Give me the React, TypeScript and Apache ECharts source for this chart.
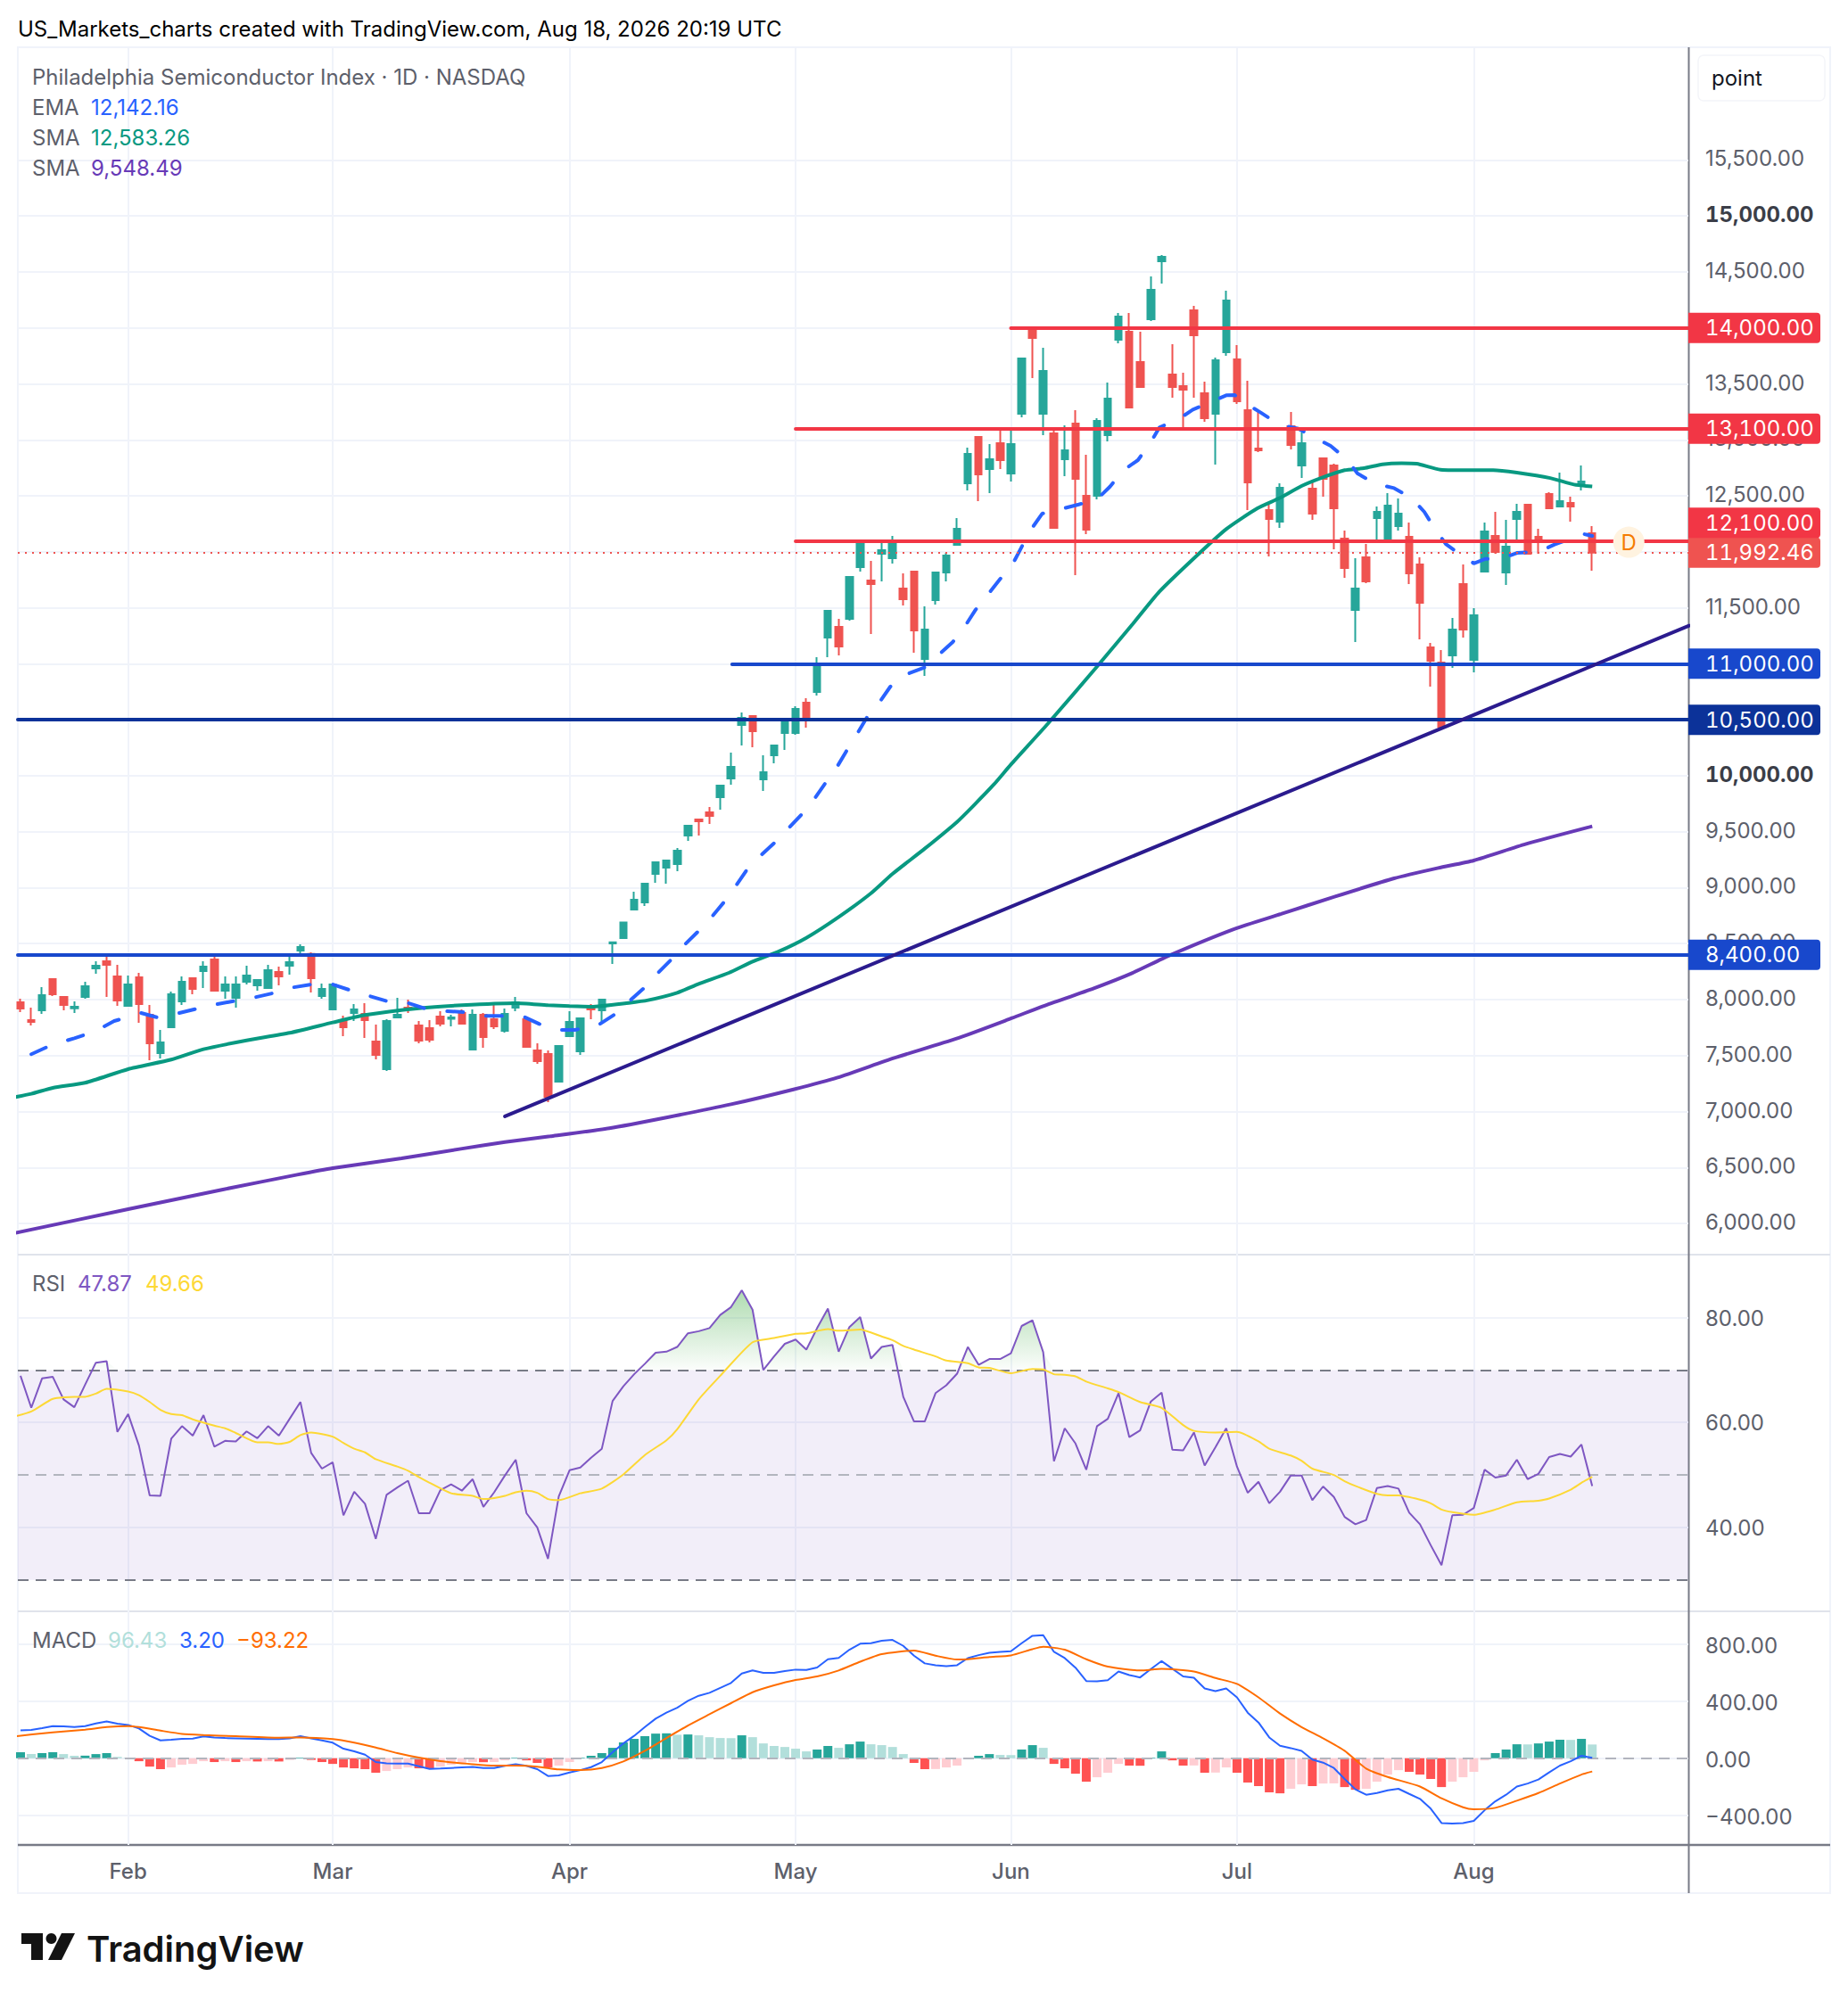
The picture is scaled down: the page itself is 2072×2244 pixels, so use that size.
import React, { useEffect, useRef } from "react";
import * as echarts from "echarts";

const FONT = "Inter";

const opens = [7976,7817,7905,8183,8024,7923,8024,8279,8343,8207,7945,8199,7865,7522,7753,7984,8191,8255,8359,8080,8016,8160,8128,8104,8247,8303,8438,8409,8032,7913,7809,7881,7873,7626,7379,7841,7929,7769,7745,7849,7828,7881,7554,7865,7825,7721,7929,7825,7546,7514,7267,7674,7538,7929,7905,8502,8550,8804,8868,9123,9179,9211,9466,9609,9673,9808,9975,10453,10533,9967,10182,10381,10381,10652,10748,11234,11329,11401,11863,11744,11982,11943,11672,11823,11043,11568,11815,12062,12612,13026,12739,12970,12699,13233,13974,13233,13058,12827,13145,12500,12500,13042,13894,13966,13695,14077,14595,13583,13480,14157,13416,13233,13783,13719,13265,12922,12373,12269,13121,12771,12564,12835,12771,12118,11481,11951,12301,12118,12229,12134,11887,11146,11011,11075,11712,11035,11823,12142,11815,12293,12421,12134,12516,12405,12436,12612,12166];
const closes = [7921,7801,8040,8048,7952,7937,8120,8303,8311,7992,8136,7960,7610,7618,8048,8160,8096,8295,8080,8136,8136,8215,8175,8263,8207,8335,8470,8191,8096,8136,7753,7913,7817,7506,7809,7865,7913,7634,7642,7785,7841,7785,7865,7666,7761,7873,7976,7578,7451,7132,7586,7801,7833,7913,8000,8512,8690,8892,9035,9227,9242,9330,9553,9593,9641,9912,10079,10517,10397,10031,10270,10501,10597,10525,10979,11473,11154,11775,12078,11712,12014,12070,11576,11297,11305,11815,11966,12206,12875,12691,12827,12819,12962,13727,13910,13615,12213,12906,12652,12198,13169,13368,14101,13289,13472,14340,14635,13472,13448,13934,13193,13711,14245,13345,12620,12906,12293,12572,12954,12970,12341,12652,12389,11855,11672,11736,12357,12413,12341,11807,11544,11027,10437,11306,11306,11433,12182,11998,12046,12357,11982,12118,12389,12452,12405,12628,11992.46];
const lows = [7889,7769,7873,8032,7905,7881,8008,8231,8024,7945,7945,7793,7459,7475,7753,7952,8048,8104,8080,8008,7929,8136,8080,8104,8128,8223,8414,8064,8008,7913,7674,7809,7658,7467,7363,7833,7881,7610,7618,7761,7761,7785,7546,7570,7737,7706,7897,7578,7427,7084,7267,7674,7506,7825,7793,8319,8542,8797,8836,9043,9035,9147,9418,9466,9569,9697,9919,10270,10254,9864,10111,10230,10366,10429,10716,11059,11074,11385,11823,11266,11736,11895,11520,11098,10891,11528,11736,12062,12548,12452,12524,12739,12628,13201,13552,13042,12213,12675,11791,12158,12468,12986,13862,13289,13472,14061,14396,13376,13106,13376,13161,12779,13751,13321,12373,12890,11959,12213,12914,12660,12285,12492,12022,11767,11194,11720,12086,12086,12190,11712,11218,10796,10429,10963,11234,10923,11823,11982,11704,12078,11982,11982,12389,12397,12269,12548,11831];
const highs = [8008,7929,8112,8191,8032,7984,8160,8343,8391,8311,8215,8239,7952,7729,8072,8207,8199,8343,8398,8207,8207,8303,8183,8311,8295,8391,8494,8422,8144,8144,7857,7960,7968,7777,7825,8016,8000,7809,7817,7897,7865,7913,7913,7881,7960,7921,8024,7833,7610,7546,7594,7897,7841,7960,8008,8520,8698,8964,9043,9230,9250,9354,9556,9612,9720,9915,10206,10565,10536,10182,10273,10517,10620,10692,11059,11476,11401,11775,12110,11919,12102,12142,11807,11830,11513,11815,11990,12301,12930,13034,12962,13114,13090,13735,13990,13822,13106,13129,13265,12867,13193,13512,14133,14133,13966,14460,14651,13854,13599,14197,13520,13735,14332,13846,13528,13249,12421,12612,13249,13066,12644,12843,12787,12190,11943,12070,12405,12524,12476,12261,11951,11186,11122,11409,11887,11497,12261,12357,12285,12429,12429,12205,12532,12707,12492,12771,12229];

const emaX = [1,2.8,5,6.9,8.7,10.2,11.2,12.7,14.5,16.2,18.3,20,21.8,23.4,25.3,27,29,30.5,32.3,34,35.8,37.5,39.5,41.2,43,44.7,46.7,48.2,50,51.5,53.6,55.1,56.5,57.8,59.1,60.4,61.6,62.9,64.2,65.3,66.4,67.4,68.7,70,71.3,72.5,73.7,74.7,75.8,76.7,77.7,78.6,79.8,80.8,82.2,84,85.3,86.6,87.8,88.7,89.9,91,92.2,93,93.9,94.9,96.7,98.3,100,101.2,102.4,103.8,104.9,105.8,107.5,108.9,110.5,112,112.8,113.8,115.2,116.9,118.7,120.2,121.7,123.2,124.2,125.9,127.6,129.2,130.4,131.4,132.4,133.9,135,136.1,137.5,139,141.1,142.5,144.3,145,146];
const emaY = [7512,7591,7655,7716,7809,7849,7881,7841,7875,7915,7960,7990,8021,8056,8109,8136,8136,8088,8035,7987,7976,7923,7897,7889,7854,7854,7849,7782,7729,7729,7769,7862,7981,8093,8228,8353,8481,8605,8738,8865,9009,9150,9282,9397,9527,9649,9787,9925,10071,10217,10371,10517,10658,10796,10902,10968,11080,11194,11345,11480,11624,11757,11897,12044,12203,12341,12383,12423,12468,12582,12726,12819,12965,13111,13180,13270,13335,13398,13400,13326,13244,13137,13100,13021,12946,12827,12699,12606,12569,12482,12357,12203,12070,11964,11897,11937,11937,11990,12004,12065,12128,12163,12142.16];

const smaFastX = [-1,1,3,6,10,14,17,21,25,29,32,37,41,46,49,51,53,56.5,58.3,61,63,65.8,68,70.5,73,76,79,81,84,87,88.5,90.4,92,95.4,100,103.3,105.8,109.1,112,114.9,117,119,120.8,123,124.8,126.5,128.3,129.7,131.9,135,136.8,139,142.1,144.3,146];
const smaFastY = [7120,7159,7212,7257,7379,7464,7557,7636,7703,7796,7862,7923,7950,7968,7950,7942,7937,7971,7995,8061,8141,8239,8340,8433,8552,8738,8950,9123,9349,9588,9730,9920,10100,10461,10975,11353,11645,11951,12203,12389,12482,12588,12659,12729,12747,12782,12792,12787,12734,12729,12729,12707,12659,12601,12583.26];

const smaSlowX = [-1,10,18.8,25.7,29,35.4,40.9,45,49.2,54.7,60.2,66,71.8,75.9,81.1,86.9,92.1,95,99.7,103.2,106.7,112.8,117.1,121.8,127.6,131.7,135,139.8,146];
const smaSlowY = [5905,6128,6304,6436,6495,6582,6667,6728,6779,6851,6951,7065,7198,7304,7477,7650,7835,7942,8101,8234,8393,8632,8765,8911,9083,9176,9243,9389,9548.49];

const trendX = [45,155];
const trendY = [6957,11340];

const rsiValues = [68.9,62.8,68.4,68.7,64.4,62.9,67.2,71.4,71.7,58.2,61.6,55.6,46.1,46.0,56.9,59.3,57.5,61.4,55.4,56.5,56.4,58.3,57.0,59.3,57.5,60.7,63.9,54.2,51.2,52.4,42.3,46.8,44.5,37.8,46.2,47.6,48.9,42.7,42.7,47.1,48.2,47.0,49.2,43.9,46.7,49.9,52.9,42.7,40.0,34.0,45.9,50.9,51.4,53.3,55.0,64.1,66.9,69.2,71.2,73.3,73.5,74.4,77.0,77.4,78.0,80.5,82.0,85.2,81.5,70.0,72.6,75.0,75.8,73.9,78.0,81.7,73.5,78.2,80.1,72.2,74.4,74.8,64.9,60.2,60.2,65.6,67.1,69.3,74.4,71.0,72.1,72.1,73.2,78.4,79.5,73.4,52.6,58.9,56.0,51.0,59.3,60.7,65.6,57.2,58.5,64.0,65.7,54.8,54.7,58.1,51.8,55.3,58.9,51.6,46.6,48.7,44.6,46.8,49.9,49.9,45.2,47.8,45.8,42.0,40.6,41.4,47.5,47.9,47.4,42.8,40.6,36.6,32.8,42.3,42.4,43.7,51.0,49.5,49.9,52.9,49.2,50.2,53.4,54.0,53.5,55.8,47.87];
const rsiMaX = [-1,1,3,5,6,7,8,10,11,12,13,14,15,16,18,19,20,22,23,24,25,26,27,29,30,31,32,33,35,36,37,38,40,42,43,44,45,46,47,48,49,50,52,54,56,58,60,61,63,65,68,70,72,73,75,76,78,80,81,82,83,85,86,88,89,90,92,94,95,96,97,98,99,101,102,104,106,108,109,111,113,115,116,118,119,120,122,123,124,126,127,128,130,131,132,133,135,137,139,141,142,144,145,146];
const rsiMaY = [60.9,62.1,64.5,64.9,64.9,65.5,66.4,65.9,65.2,63.9,62.4,61.6,61.4,60.6,59.4,58.9,58,56.2,56.2,55.9,56.3,57.6,58.1,57.3,56.1,55,54.3,53,51.6,50.8,49.6,48.5,46.5,46,45.4,45.6,46,46.7,47,46.6,45.4,45.2,46.5,47.4,50.1,53.8,56.6,58.7,64.4,68.9,75.3,76.1,76.9,77,77.8,77.5,77.7,76.4,75.7,74.6,73.9,72.6,71.8,71.3,70.5,70.4,69.4,70.2,70.1,69.2,69.1,68.8,67.8,66.5,65.8,63.9,62.8,59.5,58.4,58.1,58.2,56.4,55,53.7,52.7,51.2,50,48.8,47.9,46.4,46.1,46.1,45.3,44.6,43.4,42.9,42.4,43.4,44.8,45.1,45.5,47.2,48.5,49.66];

const macdHist = [42,29,36,42,29,17,18,29,36,10,4,-21,-59,-77,-65,-46,-40,-21,-27,-21,-27,-21,-23,-21,-23,-12,4,-12,-27,-40,-65,-71,-77,-102,-90,-77,-65,-71,-72,-59,-46,-33,-27,-28,-27,-15,4,-15,-33,-65,-52,-27,4,17,36,73,111,136,155,173,175,165,167,161,148,142,141,161,148,104,86,79,67,48,61,86,73,98,117,98,92,79,29,-33,-77,-76,-65,-52,4,17,29,23,22,61,92,73,-40,-71,-109,-165,-134,-102,-40,-52,-53,4,48,-15,-52,-51,-102,-101,-65,-102,-171,-196,-240,-247,-215,-184,-196,-178,-177,-203,-222,-215,-165,-115,-84,-96,-115,-146,-203,-165,-134,-96,-15,36,61,98,97,104,117,130,129,136,96.43];
const macdLine = [196,199,211,226,224,220,226,245,259,243,234,209,157,125,130,136,138,153,146,142,140,138,136,134,134,140,155,140,125,109,67,48,25,-27,-36,-38,-38,-56,-75,-73,-69,-65,-61,-69,-69,-54,-42,-54,-77,-125,-121,-100,-84,-63,-27,42,104,157,219,278,320,355,403,439,460,495,529,596,617,600,600,613,623,621,638,696,705,763,805,809,826,832,790,721,667,654,648,654,704,725,742,748,752,809,861,865,748,704,637,543,541,549,610,585,568,627,683,629,575,566,491,472,491,428,320,251,146,88,71,52,-10,-31,-69,-146,-219,-257,-245,-226,-215,-251,-286,-355,-456,-460,-456,-441,-366,-303,-257,-199,-178,-150,-100,-52,-21,17,3.2];
const signalX = [-1,3,6,8,10,11,13,15,17,20,24,26,29,31,33,35,37,39,42,44,46,48,50,52,54,56,58,60,62,64,66,68,70,72,74,76,78,80,83,85,87,88,90,92,94,95,97,99,101,104,106,109,111,113,115,117,119,121,123,125,127,130,132,134,135,137,139,141,143,145,146];
const signalY = [150,182,201,219,226,219,194,171,163,155,144,146,134,109,75,36,4,-21,-42,-52,-52,-59,-79,-84,-69,-23,52,142,230,309,387,464,512,550,575,617,679,732,757,721,694,696,711,723,767,784,763,696,644,617,629,610,564,523,428,314,219,140,52,-73,-132,-199,-282,-345,-359,-349,-299,-245,-178,-115,-93.22];

const priceTicks = [6000,6500,7000,7500,8000,8500,9000,9500,10000,10500,11000,11500,12000,12500,13000,13500,14000,14500,15000,15500];
const boldTicks = [10000,15000];
const rsiTicks = [40,60,80];
const macdTicks = [-400,0,400,800];
const monthBars = [10,29,51,72,92,113,135];
const monthNames = ["Feb","Mar","Apr","May","Jun","Jul","Aug"];

const AX_MIN = -0.2486;
const AX_MAX = 154.93;

const levelValues = [14000,13100,12100,11000,10500,8400];
const levelStarts = [92,72,72,66.1,AX_MIN,AX_MIN];
const levelColors = ["#f23645","#f23645","#f23645","#1848cc","#0c3299","#1848cc"];
const lastPrice = 11992.46;
const dividendPoint = [149.4,12086];

const pairs = (xs: number[], ys: number[]) => xs.map((x, i) => [x, ys[i]]);
const fmt = (v: number) =>
  v.toLocaleString("en-US", { minimumFractionDigits: 2, maximumFractionDigits: 2 }).replace("-", "\u2212");

const GRID_LINE = "#f0f3fa";
const AXIS_LINE = "#787b86";
const LABEL = "#5d606b";

function xAxisFor(gridIndex: number, labels: boolean) {
  return {
    type: "value",
    gridIndex,
    min: AX_MIN,
    max: AX_MAX,
    axisLine: { show: false },
    axisTick: { show: false, customValues: monthBars },
    splitLine: { show: true, lineStyle: { color: GRID_LINE, width: 2 } },
    axisLabel: {
      show: labels,
      customValues: monthBars,
      margin: 17,
      color: LABEL,
      fontFamily: FONT,
      fontSize: 24,
      fontWeight: 500,
      formatter: (v: number) => monthNames[monthBars.indexOf(v)] ?? "",
    },
  };
}

function yAxisFor(gridIndex: number, min: number, max: number, ticks: number[], labelPad: number[], bold: number[] = []) {
  return {
    type: "value",
    gridIndex,
    position: "right",
    min,
    max,
    axisLine: { show: false },
    axisTick: { show: false, customValues: ticks },
    splitLine: { show: true, lineStyle: { color: GRID_LINE, width: 2 } },
    axisLabel: {
      customValues: ticks,
      margin: 19,
      align: "left",
      color: LABEL,
      fontFamily: FONT,
      fontSize: 24,
      padding: labelPad,
      formatter: (v: number) => (bold.includes(v) ? `{b|${fmt(v)}}` : fmt(v)),
      rich: { b: { fontFamily: FONT, fontSize: 24, fontWeight: 700, color: "#3b3e48" } },
    },
  };
}

function tag(text: string, color: string, offset?: number[]) {
  return {
    show: true,
    position: "end",
    distance: 0,
    formatter: text,
    color: "#ffffff",
    fontFamily: FONT,
    fontSize: 24,
    backgroundColor: color,
    borderRadius: [0, 4, 4, 0],
    width: 129,
    height: 24,
    lineHeight: 24,
    align: "left",
    verticalAlign: "middle",
    padding: [5, 0, 5, 19],
    offset,
  };
}

function txt(text: string, x: number, y: number, fill: string, size = 24, weight: number | string = 400) {
  return {
    type: "text",
    silent: true,
    z: 20,
    style: { text, x, y, fill, font: `${weight} ${size}px ${FONT}`, verticalAlign: "middle", align: "left" },
  };
}

function line(from: number[], to: number[], stroke: string, lineWidth: number) {
  return {
    type: "line",
    silent: true,
    shape: { x1: from[0], y1: from[1], x2: to[0], y2: to[1] },
    style: { stroke, lineWidth },
  };
}

export default function App() {
  const ref = useRef<HTMLDivElement>(null);
  useEffect(() => {
    document.body.style.margin = "0";
    const chart = echarts.init(ref.current!, undefined, { renderer: "svg" });
    const option: any = {
      animation: false,
      backgroundColor: "#ffffff",
      grid: [
        { left: 20, right: 179, top: 53, height: 1354 },
        { left: 20, right: 179, top: 1407, height: 400 },
        { left: 20, right: 179, top: 1807, height: 262 },
      ],
      xAxis: [xAxisFor(0, false), xAxisFor(1, false), xAxisFor(2, true)],
      yAxis: [
        yAxisFor(0, 5722, 16507, priceTicks, [0, 0, 3, 0], boldTicks),
        yAxisFor(1, 24, 92, rsiTicks, [1, 0, 0, 0]),
        yAxisFor(2, -610, 1033, macdTicks, [3, 0, 0, 0]),
      ],
      graphic: {
        elements: [
          { type: "rect", silent: true, shape: { x: 20, y: 53, width: 2032, height: 2070 }, style: { fill: "none", stroke: GRID_LINE, lineWidth: 2 } },
          line([20, 1407], [2052, 1407], "#e0e3eb", 2),
          line([20, 1807], [2052, 1807], "#e0e3eb", 2),
          line([20, 2069], [2052, 2069], AXIS_LINE, 2.5),
          line([1893.5, 53], [1893.5, 2123], AXIS_LINE, 2),
          { type: "rect", silent: true, shape: { x: 1904, y: 62, width: 142, height: 51, r: 6 }, style: { fill: "#ffffff", stroke: "#f4f5f9", lineWidth: 1.5 } },
          txt("point", 1919, 87, "#131722"),
          txt("US_Markets_charts created with TradingView.com, Aug 18, 2026 20:19 UTC", 20, 32, "#000000", 24),
          txt("Philadelphia Semiconductor Index \u00b7 1D \u00b7 NASDAQ", 36, 86, LABEL),
          txt("EMA", 36, 120, LABEL),
          txt("12,142.16", 102, 120, "#2962ff"),
          txt("SMA", 36, 154, LABEL),
          txt("12,583.26", 102, 154, "#089981"),
          txt("SMA", 36, 188, LABEL),
          txt("9,548.49", 102, 188, "#673ab7"),
          txt("RSI", 36, 1439, LABEL),
          txt("47.87", 87, 1439, "#7e57c2"),
          txt("49.66", 163, 1439, "#fdd835"),
          txt("MACD", 36, 1839, LABEL),
          txt("96.43", 121, 1839, "#b2dfdb"),
          txt("3.20", 201, 1839, "#2962ff"),
          txt("\u221293.22", 265, 1839, "#ff6d00"),
          txt("TradingView", 97, 2185, "#131313", 40, 600),
          { type: "polygon", silent: true, shape: { points: [[24, 2168], [48, 2168], [48, 2198], [35, 2198], [35, 2180], [24, 2180]] }, style: { fill: "#131313" } },
          { type: "circle", silent: true, shape: { cx: 57.5, cy: 2174, r: 6 }, style: { fill: "#131313" } },
          { type: "polygon", silent: true, shape: { points: [[69, 2168], [84, 2168], [69, 2198], [54, 2198]] }, style: { fill: "#131313" } },
        ],
      },
      series: [
        {
          type: "candlestick",
          xAxisIndex: 0,
          yAxisIndex: 0,
          z: 3,
          barWidth: 8,
          clip: true,
          data: opens.map((o, i) => [i, o, closes[i], lows[i], highs[i]]),
          itemStyle: { color: "#26a69a", color0: "#ef5350", borderColor: "#26a69a", borderColor0: "#ef5350", borderWidth: 2 },
        },
        { type: "line", xAxisIndex: 0, yAxisIndex: 0, z: 4, showSymbol: false, smooth: 0.2, data: pairs(smaSlowX, smaSlowY), lineStyle: { color: "#673ab7", width: 4 } },
        { type: "line", xAxisIndex: 0, yAxisIndex: 0, z: 4, showSymbol: false, smooth: 0.2, data: pairs(smaFastX, smaFastY), lineStyle: { color: "#089981", width: 4 } },
        { type: "line", xAxisIndex: 0, yAxisIndex: 0, z: 4, showSymbol: false, data: pairs(emaX, emaY), lineStyle: { color: "#2962ff", width: 4, type: [18, 26], cap: "round" } },
        { type: "line", xAxisIndex: 0, yAxisIndex: 0, z: 5, showSymbol: false, data: pairs(trendX, trendY), lineStyle: { color: "#2b1b8e", width: 4, cap: "round" } },
        {
          type: "line",
          xAxisIndex: 0,
          yAxisIndex: 0,
          z: 6,
          clip: false,
          data: [],
          silent: true,
          markLine: {
            silent: true,
            symbol: "none",
            animation: false,
            data: [
              [
                { coord: [AX_MIN, lastPrice], lineStyle: { color: "#ef5350", width: 2, type: [2, 6] }, label: tag(fmt(lastPrice), "#ef5350") },
                { coord: [AX_MAX, lastPrice] },
              ],
              ...levelValues.map((v, i) => [
                {
                  coord: [levelStarts[i], v],
                  lineStyle: { color: levelColors[i], width: 4, type: "solid", cap: "round" },
                  label: tag(fmt(v), levelColors[i], v === 12100 ? [0, -20] : undefined),
                },
                { coord: [AX_MAX, v] },
              ]),
            ],
          },
        },
        {
          type: "scatter",
          xAxisIndex: 0,
          yAxisIndex: 0,
          z: 7,
          symbolSize: 35,
          data: [dividendPoint],
          itemStyle: { color: "#fff3e0", opacity: 1 },
          label: { show: true, position: "inside", formatter: "D", color: "#f57c00", fontFamily: FONT, fontSize: 24 },
        },
        {
          type: "line",
          xAxisIndex: 1,
          yAxisIndex: 1,
          z: 3,
          showSymbol: false,
          data: rsiValues.map((v, i) => [i, Math.max(v, 70)]),
          lineStyle: { width: 0 },
          areaStyle: {
            origin: 70,
            opacity: 1,
            color: new echarts.graphic.LinearGradient(0, 0, 0, 1, [
              { offset: 0, color: "rgba(76,175,80,0.45)" },
              { offset: 1, color: "rgba(76,175,80,0.02)" },
            ]),
          },
        },
        {
          type: "line",
          xAxisIndex: 1,
          yAxisIndex: 1,
          z: 5,
          showSymbol: false,
          data: rsiValues.map((v, i) => [i, v]),
          lineStyle: { color: "#7e57c2", width: 2 },
          markArea: { silent: true, itemStyle: { color: "rgba(126,87,194,0.1)" }, data: [[{ yAxis: 70 }, { yAxis: 30 }]] },
          markLine: {
            silent: true,
            symbol: "none",
            animation: false,
            label: { show: false },
            data: [
              { yAxis: 70, lineStyle: { color: AXIS_LINE, width: 2, type: [12, 8] } },
              { yAxis: 50, lineStyle: { color: "#b2b5be", width: 2, type: [12, 8] } },
              { yAxis: 30, lineStyle: { color: AXIS_LINE, width: 2, type: [12, 8] } },
            ],
          },
        },
        { type: "line", xAxisIndex: 1, yAxisIndex: 1, z: 5, showSymbol: false, smooth: 0.2, data: pairs(rsiMaX, rsiMaY), lineStyle: { color: "#fdd835", width: 2 } },
        {
          type: "bar",
          xAxisIndex: 2,
          yAxisIndex: 2,
          z: 3,
          barWidth: 10,
          data: macdHist.map((v, i) => [i, v]),
          itemStyle: {
            color: (p: any) => {
              const v = macdHist[p.dataIndex];
              const prev = p.dataIndex > 0 ? macdHist[p.dataIndex - 1] : v - 1;
              if (v >= 0) return v > prev ? "#26a69a" : "#b2dfdb";
              return v < prev ? "#ff5252" : "#ffcdd2";
            },
          },
          markLine: {
            silent: true,
            symbol: "none",
            animation: false,
            label: { show: false },
            data: [{ yAxis: 0, lineStyle: { color: "#b2b5be", width: 2, type: [12, 8] } }],
          },
        },
        { type: "line", xAxisIndex: 2, yAxisIndex: 2, z: 5, showSymbol: false, data: macdLine.map((v, i) => [i, v]), lineStyle: { color: "#2962ff", width: 2 } },
        { type: "line", xAxisIndex: 2, yAxisIndex: 2, z: 5, showSymbol: false, smooth: 0.2, data: pairs(signalX, signalY), lineStyle: { color: "#ff6d00", width: 2 } },
      ],
    };
    chart.setOption(option);
    return () => chart.dispose();
  }, []);
  return <div ref={ref} style={{ width: 2072, height: 2244, fontFeatureSettings: '"tnum"' }} />;
}
